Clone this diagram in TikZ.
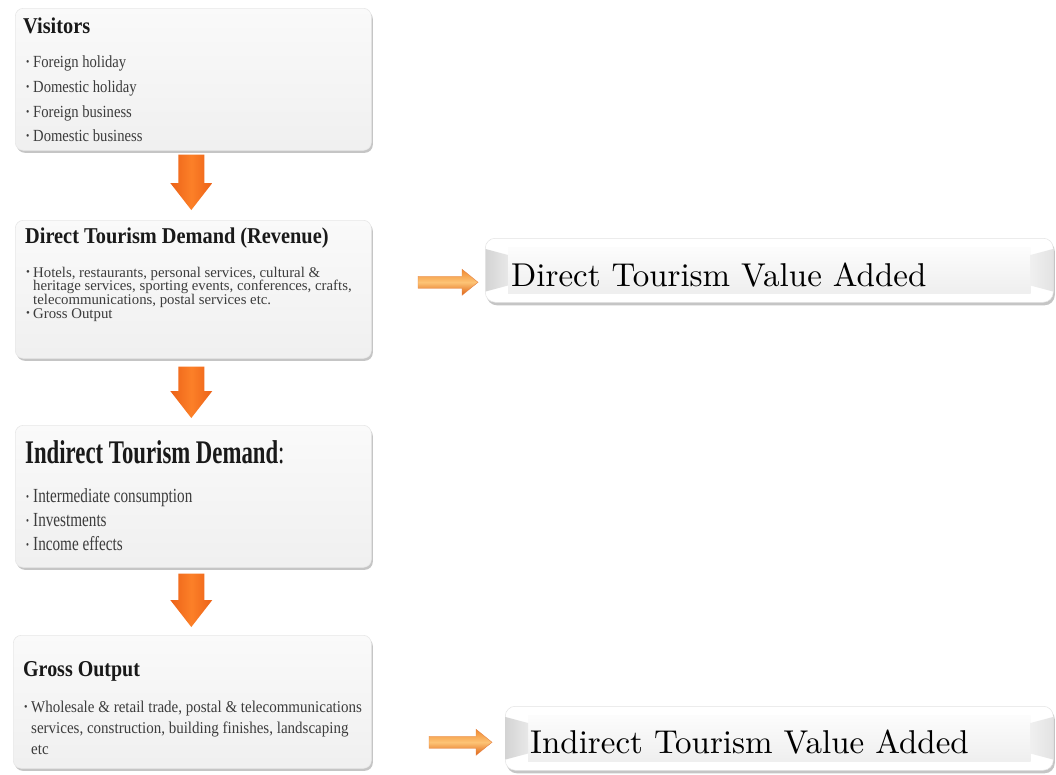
\documentclass[tikz,border=0pt]{standalone}
\usepackage{fontspec}
\usetikzlibrary{calc,shadows}
\newfontfamily\stA[FakeStretch=0.90]{Liberation Serif}
\newfontfamily\stB[FakeStretch=0.69]{Liberation Serif}
\newfontfamily\stC[FakeStretch=0.88]{Liberation Serif}
\newfontfamily\stD[FakeStretch=0.86]{Liberation Serif}
\newfontfamily\stE[FakeStretch=1.0]{Liberation Serif}
\newfontfamily\stF[FakeStretch=0.76]{Liberation Serif}
\newfontfamily\stG[FakeStretch=0.91]{Liberation Serif}
\newfontfamily\lmten{lmroman10-regular.otf}
\definecolor{do1}{RGB}{236,98,24}
\definecolor{do2}{RGB}{252,128,40}
\definecolor{ro1}{RGB}{240,138,48}
\definecolor{ro2}{RGB}{253,196,118}
\definecolor{ro3}{RGB}{222,98,20}
\definecolor{titc}{RGB}{25,25,25}
\definecolor{itc}{RGB}{60,60,60}
\newcommand\bul{\makebox[7pt][l]{\raisebox{1.2pt}{\fontsize{11}{11}\selectfont •}}}
\newcommand\darrow[4]{%
  \shade[left color=do1, right color=do1, middle color=do2]
    let \p1=($(#1.south)+(-2,#3)$), \p2=($(#2.north)+(-2,-#4)$) in
    (\x1-13pt,\y1) -- (\x1+13pt,\y1) -- (\x1+13pt,\y2+27pt) -- (\x1+21pt,\y2+27pt)
    -- (\x1,\y2) -- (\x1-21pt,\y2+27pt) -- (\x1-13pt,\y2+27pt) -- cycle;}
\newcommand\rarrow[2]{%
  \shade[top color=ro1, bottom color=ro3, middle color=ro2, draw=ro3!80, line width=0.4pt]
    let \p1=(#1), \p2=(#2) in
    (\x1,\y2+6pt) -- (\x2-16pt,\y2+6pt) -- (\x2-16pt,\y2+13pt) -- (\x2,\y2)
    -- (\x2-16pt,\y2-13pt) -- (\x2-16pt,\y2-6pt) -- (\x1,\y2-6pt) -- cycle;}
\newcommand\bevel[1]{%
  \shade[top color=gray!2, bottom color=gray!13]
    let \p1=(#1.north west), \p2=(#1.south east) in
    (\x1+23pt,\y1-9pt) rectangle (\x2-23pt,\y2+9pt);
  \shade[left color=gray!34, right color=gray!18]
    let \p1=(#1.north west), \p2=(#1.south east) in
    (\x1+0.6pt,\y1-11pt) -- (\x1+23pt,\y1-17pt) -- (\x1+23pt,\y2+17pt) -- (\x1+0.6pt,\y2+11pt) -- cycle;
  \shade[left color=gray!12, right color=gray!22]
    let \p1=(#1.north west), \p2=(#1.south east) in
    (\x2-0.6pt,\y1-11pt) -- (\x2-23pt,\y1-17pt) -- (\x2-23pt,\y2+17pt) -- (\x2-0.6pt,\y2+11pt) -- cycle;}
\tikzset{
  lbox/.style={rounded corners=8pt, top color=gray!4, bottom color=gray!12,
    draw=gray!18, line width=0.6pt, inner sep=0pt, anchor=north west,
    drop shadow={shadow xshift=1.5pt, shadow yshift=-2.5pt, opacity=0.45}},
  rbox/.style={rounded corners=10pt, fill=white, draw=gray!22, line width=0.5pt,
    inner sep=0pt, anchor=north west,
    drop shadow={shadow xshift=1.5pt, shadow yshift=-3pt, opacity=0.45}},
  ttl/.style={anchor=base west, inner sep=0pt, text=titc},
  itm/.style={anchor=base west, inner sep=0pt, text=itc},
  big/.style={anchor=base west, inner sep=0pt, text=black,
    font=\lmten\fontsize{33}{38}\selectfont}
}
\begin{document}
\begin{tikzpicture}[x=1pt, y=-1pt]
\useasboundingbox[fill=white] (0,0) rectangle (1056,774);

% left boxes
\node[lbox, minimum width=356pt, minimum height=142pt] (v) at (15,8) {};
\node[lbox, minimum width=356pt, minimum height=138pt] (d) at (15,220) {};
\node[lbox, minimum width=356pt, minimum height=142pt] (i) at (15,425) {};
\node[lbox, minimum width=358pt, minimum height=133pt] (g) at (13,635) {};

% Visitors
\node[ttl] (vt) at (23,33) {\stA\bfseries\fontsize{22.6}{24}\selectfont Visitors};
\node[itm] (v1) at (26,67) {\stD\fontsize{17}{17}\selectfont\bul Foreign holiday};
\node[itm] (v2) at (26,92) {\stD\fontsize{17}{17}\selectfont\bul Domestic holiday};
\node[itm] (v3) at (26,117) {\stD\fontsize{17}{17}\selectfont\bul Foreign business};
\node[itm] (v4) at (26,141) {\stD\fontsize{17}{17}\selectfont\bul Domestic business};

% Direct
\node[ttl] (dt) at (25,243) {\stA\bfseries\fontsize{22.6}{24}\selectfont Direct Tourism Demand (Revenue)};
\node[itm] (d1) at (26,277) {\stE\fontsize{14.8}{14.8}\selectfont\bul Hotels, restaurants, personal services, cultural \&};
\node[itm] (d2) at (33,290.5) {\stE\fontsize{14.8}{14.8}\selectfont heritage services, sporting events, conferences, crafts,};
\node[itm] (d3) at (33,304.5) {\stE\fontsize{14.8}{14.8}\selectfont telecommunications, postal services etc.};
\node[itm] (d4) at (26,318) {\stE\fontsize{14.8}{14.8}\selectfont\bul Gross Output};

% Indirect
\node[ttl] (it) at (25,463) {\stB\fontsize{33}{34}\selectfont\textbf{Indirect Tourism Demand}:};
\node[itm] (i1) at (26,502) {\stF\fontsize{20}{20}\selectfont\bul Intermediate consumption};
\node[itm] (i2) at (26,526) {\stF\fontsize{20}{20}\selectfont\bul Investments};
\node[itm] (i3) at (26,550) {\stF\fontsize{20}{20}\selectfont\bul Income effects};

% Gross Output
\node[ttl] (gt) at (23,676) {\stC\bfseries\fontsize{22.7}{24}\selectfont Gross Output};
\node[itm] (g1) at (24,712) {\stG\fontsize{16.5}{16.5}\selectfont\bul Wholesale \& retail trade, postal \& telecommunications};
\node[itm] (g2) at (31,733) {\stG\fontsize{16.5}{16.5}\selectfont services, construction, building finishes, landscaping};
\node[itm] (g3) at (31,754) {\stG\fontsize{16.5}{16.5}\selectfont etc};

% down arrows
\darrow{v}{d}{4}{10}
\darrow{d}{i}{8}{7}
\darrow{i}{g}{6}{8}

% right boxes
\node[rbox, minimum width=568pt, minimum height=64pt] (r1) at (485,238) {};
\bevel{r1}
\node[big] (r1t) at (511,286) {Direct Tourism Value Added};
\node[rbox, minimum width=548pt, minimum height=64pt] (r2) at (505,706) {};
\bevel{r2}
\node[big] (r2t) at (530,753) {Indirect Tourism Value Added};

% right arrows
\coordinate (a1) at (418,282);
\coordinate (a2) at (429,742);
\rarrow{a1}{$(r1.west)+(-7,12)$}
\rarrow{a2}{$(r2.west)+(-13,4)$}
\end{tikzpicture}
\end{document}
